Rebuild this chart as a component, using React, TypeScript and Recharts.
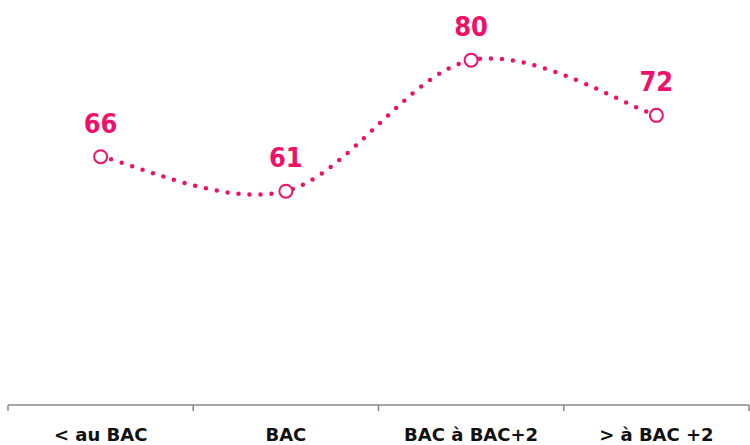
import { LineChart, Line, XAxis, YAxis } from "recharts";

const categories = ["< au BAC", "BAC", "BAC à BAC+2", "> à BAC +2"];
const values = [66, 61, 80, 72];

const data = categories.map((name, i) => ({ name, value: values[i] }));

const PINK = "#F0106A";
const W = 750;
const H = 445;
const MARGIN = { top: 5, right: 1, left: 8, bottom: 0 };
const BAND = (W - MARGIN.left - MARGIN.right) / categories.length;

// Catmull-Rom style smoothing (like Excel's smoothed line)
function smoothCurve(context: any) {
  let pts: number[][] = [];
  return {
    areaStart() {},
    areaEnd() {},
    lineStart() {
      pts = [];
    },
    point(x: number, y: number) {
      pts.push([+x, +y]);
    },
    lineEnd() {
      if (!pts.length) return;
      context.moveTo(pts[0][0], pts[0][1]);
      for (let i = 0; i < pts.length - 1; i++) {
        const p0 = pts[i - 1] || pts[i];
        const p1 = pts[i];
        const p2 = pts[i + 1];
        const p3 = pts[i + 2] || pts[i + 1];
        context.bezierCurveTo(
          p1[0] + (p2[0] - p0[0]) / 6,
          p1[1] + (p2[1] - p0[1]) / 6,
          p2[0] - (p3[0] - p1[0]) / 6,
          p2[1] - (p3[1] - p1[1]) / 6,
          p2[0],
          p2[1]
        );
      }
    },
  };
}

const Tick = (props: any) => {
  const { x, y, payload, index } = props;
  const left = x - BAND / 2;
  return (
    <g>
      <line x1={left} x2={left} y1={y} y2={y + 6} stroke="#888" strokeWidth={1.5} />
      {index === categories.length - 1 && (
        <line x1={x + BAND / 2} x2={x + BAND / 2} y1={y} y2={y + 6} stroke="#888" strokeWidth={1.5} />
      )}
      <text
        x={x}
        y={y + 36}
        textAnchor="middle"
        fontFamily="DejaVu Sans"
        fontWeight="bold"
        fontSize={18}
        fill="#111"
      >
        {payload.value}
      </text>
    </g>
  );
};

const Dot = (props: any) => {
  const { cx, cy, index } = props;
  return <circle key={index} cx={cx} cy={cy} r={6.5} fill="#fff" stroke={PINK} strokeWidth={2} />;
};

const ValueLabel = (props: any) => {
  const { x, y, value, index } = props;
  return (
    <text
      key={index}
      x={x}
      y={y - 24}
      textAnchor="middle"
      fontFamily="DejaVu Sans Condensed, DejaVu Sans"
      fontWeight="bold"
      fontSize={27}
      fill={PINK}
    >
      {value}
    </text>
  );
};

export default function App() {
  return (
    <div style={{ position: "absolute", left: 0, top: 0, background: "#fff" }}>
      <LineChart width={W} height={H} data={data} margin={MARGIN}>
        <XAxis
          dataKey="name"
          scale="band"
          height={40}
          tickSize={0}
          tickMargin={0}
          tickLine={false}
          axisLine={{ stroke: "#888", strokeWidth: 1.5 }}
          tick={<Tick />}
          interval={0}
        />
        <YAxis hide domain={[30, 88]} />
        <Line
          dataKey="value"
          type={smoothCurve as any}
          stroke={PINK}
          strokeWidth={4.5}
          strokeDasharray="0 11"
          strokeLinecap="round"
          dot={<Dot />}
          activeDot={false}
          label={<ValueLabel />}
          isAnimationActive={false}
        />
      </LineChart>
    </div>
  );
}
